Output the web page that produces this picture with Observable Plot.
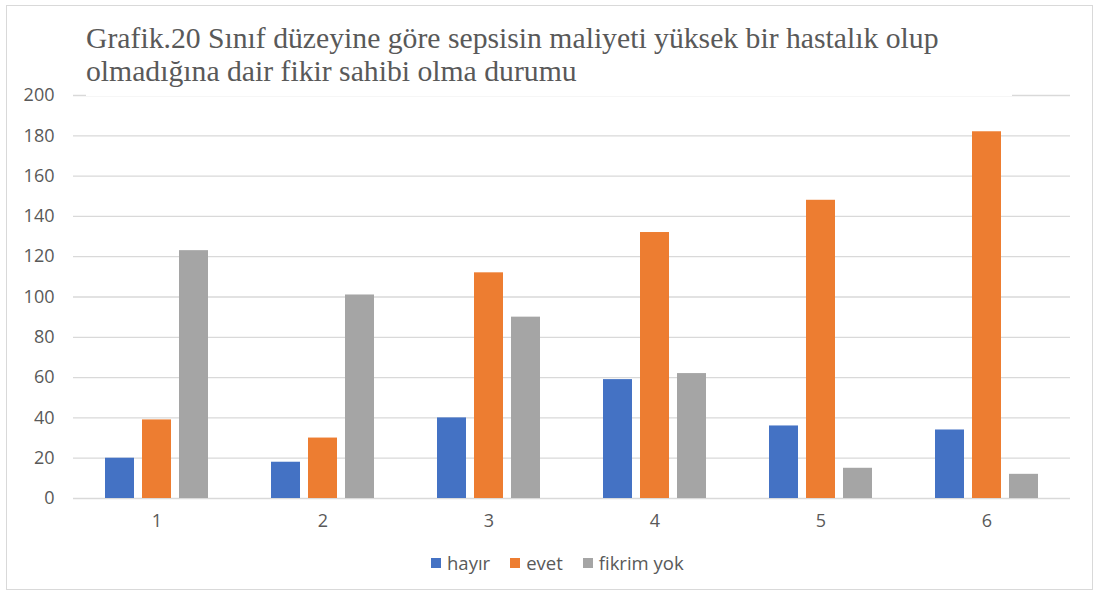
<!DOCTYPE html>
<html><head><meta charset="utf-8">
<script src="https://cdn.jsdelivr.net/npm/d3@7"></script>
<script src="https://cdn.jsdelivr.net/npm/@observablehq/plot@0.6"></script>
<style>
body{margin:0;background:#fff;}
#wrap{position:relative;width:1099px;height:594px;overflow:hidden;background:#fff;}
#chart{position:absolute;left:0;top:0;}
#frame{position:absolute;left:6px;top:5px;width:1087px;height:585px;border:1.5px solid #d9d9d9;box-sizing:border-box;pointer-events:none;}
#title{position:absolute;left:86px;top:22px;width:926px;height:74px;background:#fff;font-family:"Liberation Serif","Times New Roman",serif;font-size:29.7px;line-height:33px;color:#595959;white-space:nowrap;}
#legend{position:absolute;top:550px;left:431px;display:flex;align-items:center;font-family:"Open Sans","DejaVu Sans",sans-serif;font-size:18.5px;color:#595959;}
#legend span.sw{display:inline-block;width:10px;height:10px;margin-right:6px;}
#legend span.lab{margin-right:20px;}
</style></head>
<body>
<div id="wrap">
  <div id="chart"></div>
  <div id="title">Grafik.20 Sınıf düzeyine göre sepsisin maliyeti yüksek bir hastalık olup<br>olmadığına dair fikir sahibi olma durumu</div>
  <div id="legend"></div>
  <div id="frame"></div>
</div>
<script>
const groups = ["1","2","3","4","5","6"];
const seriesNames = ["hayır","evet","fikrim yok"];
const hayir = [20,18,40,59,36,34];
const evet = [39,30,112,132,148,182];
const fikrimYok = [123,101,90,62,15,12];
const colors = ["#4472c4","#ed7d31","#a5a5a5"];
const yTicks = d3.range(0,201,20);

const seriesValues = [hayir, evet, fikrimYok];
const tables = seriesValues.map((vals, k) => groups.map((g, i) => ({group: g, series: seriesNames[k], value: vals[i]})));

const chart = Plot.plot({
  width: 1099,
  height: 594,
  marginTop: 95,
  marginBottom: 96,
  marginLeft: 73,
  marginRight: 29,
  style: {fontFamily: "'Open Sans','DejaVu Sans',sans-serif", color: "#595959", background: "transparent"},
  x: {domain: groups, paddingInner: 0.825, paddingOuter: 0.4125, align: 0.5},
  y: {domain: [0, 200]},
  color: {domain: seriesNames, range: colors},
  marks: [
    Plot.ruleY(yTicks, {stroke: "#d9d9d9", strokeWidth: 1.3}),
    ...tables.map((t, k) => Plot.barY(t, {x: "group", y: "value", fill: "series", dx: (k - 1) * 37})),
    Plot.axisY({ticks: yTicks, tickSize: 0, tickPadding: 19, label: null, fill: "#595959", fontSize: 18}),
    Plot.axisX({tickSize: 0, tickPadding: 16, label: null, fill: "#595959", fontSize: 18})
  ]
});
document.getElementById("chart").appendChild(chart);

const legend = document.getElementById("legend");
seriesNames.forEach((s, k) => {
  const sw = document.createElement("span");
  sw.className = "sw"; sw.style.background = colors[k];
  const lab = document.createElement("span");
  lab.className = "lab"; lab.textContent = s;
  legend.appendChild(sw); legend.appendChild(lab);
});
</script>
</body></html>
